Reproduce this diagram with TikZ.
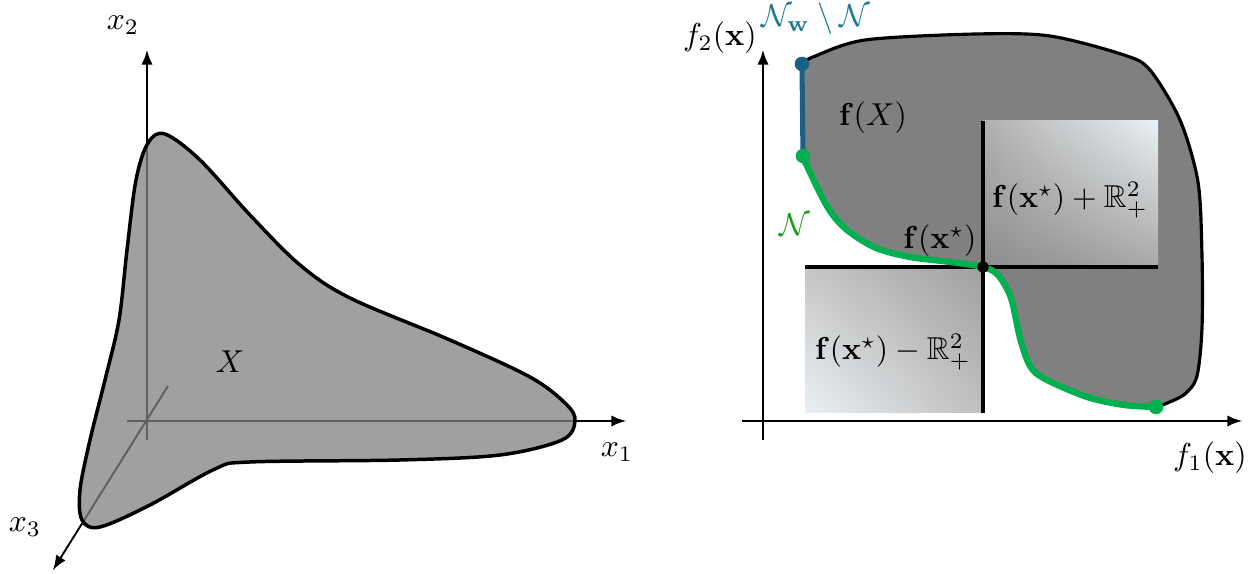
\documentclass[tikz,border=0pt]{standalone}
\usepackage{amsmath,amssymb}
\usetikzlibrary{shadings}
\definecolor{frontgreen}{HTML}{00B050}
\definecolor{labgreen}{HTML}{1A9A1A}
\definecolor{weakblue}{HTML}{1A5F85}
\definecolor{labblue}{HTML}{1B7896}
\definecolor{paleblue}{HTML}{EAF0F4}
\begin{document}
\begin{tikzpicture}[
  x=0.0111cm, y=-0.0111cm,
  axis/.style={->, >=latex, semithick},
  region/.style={draw, line width=1.1pt, fill=#1},
  front/.style={line width=2pt, frontgreen, line cap=round},
  weak/.style={line width=1.6pt, weakblue},
  cone/.style={line width=1pt},
  dot/.style={fill=#1}
]
\useasboundingbox (0,0) rectangle (1260,574);

%% Decision space: axes
\coordinate (o) at (147,421);
\coordinate (x1s) at (127,421);
\coordinate (x1e) at (626,421);
\coordinate (x2s) at (147,440);
\coordinate (x2e) at (147,50);
\coordinate (x3s) at (168,386);
\coordinate (x3e) at (53,570);
\draw[axis] (x1s) -- (x1e);
\draw[axis] (x2s) -- (x2e);
\draw[axis] (x3s) -- (x3e);
\node (x1) at (617,452) {$x_1$};
\node (x2) at (123,25) {$x_2$};
\node (x3) at (25,527) {$x_3$};

%% Feasible set X
\draw[region=gray, fill opacity=0.75] plot[smooth cycle, tension=0.55] coordinates {
  (165,134) (200,160) (250,215) (300,265) (350,298) (450,340) (530,377)
  (566,404) (575,421) (562,440) (500,455) (400,460) (250,462) (215,469)
  (150,505) (100,527) (82,520) (80,490) (90,440) (105,380) (119,320)
  (127,250) (136,180) (148,143)};
\node (X) at (230,362) {$X$};

%% Objective space: axes
\coordinate (f1s) at (742,421);
\coordinate (f1e) at (1242,421);
\coordinate (f2s) at (763,440);
\coordinate (f2e) at (763,50);
\draw[axis] (f1s) -- (f1e);
\draw[axis] (f2s) -- (f2e);
\node (f1) at (1210,458) {$f_1(\mathbf{x})$};
\node (f2) at (720,38) {$f_2(\mathbf{x})$};

%% Image f(X)
\coordinate (wtop) at (802,64);
\coordinate (ntop) at (803,156);
\coordinate (star) at (983,267);
\coordinate (nend) at (1156,407);
\fill[gray] plot[smooth] coordinates {
  (802,64) (813,57) (865,40) (976,34) (1050,36) (1124,55) (1150,70)
  (1180,120) (1198,182) (1202,255) (1202,328) (1197,376) (1185,394)
  (1165,404) (1156,407)}
  -- plot[smooth] coordinates {
  (1156,407) (1124,405) (1087,397) (1045,379) (1030,366) (1020,338)
  (1011,298) (998,275) (983,267) (950,262) (910,257) (876,248)
  (847,230) (828,208) (806,164) (803,156)} -- cycle;
\draw[line width=1pt] plot[smooth] coordinates {
  (802,64) (813,57) (865,40) (976,34) (1050,36) (1124,55) (1150,70)
  (1180,120) (1198,182) (1202,255) (1202,328) (1197,376) (1185,394)
  (1165,404) (1156,407)};

%% Cones at f(x*)
\coordinate (upc) at (1158,121);
\coordinate (loc) at (805,413);
\shade[lower left=gray!90, upper right=paleblue, upper left=gray!62, lower right=gray!68]
  (star) rectangle (upc);
\shade[upper right=gray!75, lower left=paleblue, upper left=gray!45, lower right=gray!50]
  (loc) rectangle (star);
\coordinate (hl) at (805,267);
\coordinate (hr) at (1158,267);
\coordinate (vt) at (983,121);
\coordinate (vb) at (983,413);
\draw[cone] (hl) -- (hr);
\draw[cone] (vt) -- (vb);

%% Fronts
\draw[weak] (wtop) -- (ntop);
\draw[front] plot[smooth] coordinates {
  (803,156) (806,164) (828,208) (847,230) (876,248) (910,257) (950,262)
  (983,267) (998,275) (1011,298) (1020,338) (1030,366) (1045,379)
  (1087,397) (1124,405) (1156,407)};
\fill[dot=weakblue] (wtop) circle (2.3pt);
\fill[dot=frontgreen] (ntop) circle (2.3pt);
\fill[dot=frontgreen] (nend) circle (2.3pt);
\fill[dot=black] (star) circle (1.8pt);

%% Labels
\node (fX) at (873,118) {$\mathbf{f}(X)$};
\node (fstar) at (940,241) {$\mathbf{f}(\mathbf{x}^\star)$};
\node (upl) at (1070,200) {$\mathbf{f}(\mathbf{x}^\star)+\mathbb{R}^2_+$};
\node (lol) at (893,352) {$\mathbf{f}(\mathbf{x}^\star)-\mathbb{R}^2_+$};
\node[text=labgreen] (N) at (795,225) {$\mathcal{N}$};
\node[text=labblue, inner sep=1pt] (Nw) at (816,19) {$\mathcal{N}_{\mathbf{w}}\setminus\mathcal{N}$};
\end{tikzpicture}
\end{document}
